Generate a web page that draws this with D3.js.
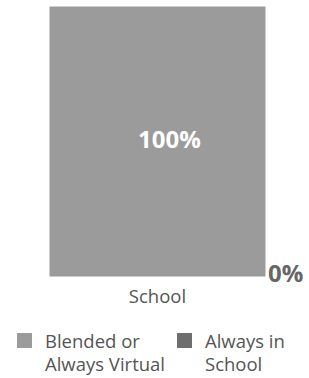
<!DOCTYPE html>
<html><head><meta charset="utf-8">
<script src="https://cdn.jsdelivr.net/npm/d3@7"></script>
<style>body{margin:0;background:#fff}svg{display:block;font-family:"Open Sans",sans-serif}</style>
</head><body>
<svg id="c" width="309" height="378"></svg>
<script>
const categories = ["School"];
const seriesNames = ["Blended or Always Virtual", "Always in School"];
const blended = [100];
const alwaysInSchool = [0];
const colors = ["#9b9b9b", "#6e6e6e"];
const legendLines = [["Blended or", "Always Virtual"], ["Always in", "School"]];

const svg = d3.select("#c");
const x = d3.scaleBand().domain(categories).range([49, 266]).padding(0);
const y = d3.scaleLinear().domain([0, 100]).range([277, 6]);

const rows = categories.map((c, i) => ({cat: c, "Always in School": alwaysInSchool[i], "Blended or Always Virtual": blended[i]}));
const stack = d3.stack().keys(["Always in School", "Blended or Always Virtual"])(rows);

stack.forEach(layer => {
  const ci = seriesNames.indexOf(layer.key);
  svg.append("g").selectAll("rect").data(layer).join("rect")
    .attr("x", d => x(d.data.cat))
    .attr("width", x.bandwidth())
    .attr("y", d => Math.min(y(d[1]), y(d[0]) - 2))
    .attr("height", d => Math.max(y(d[0]) - y(d[1]), 2))
    .attr("fill", colors[ci])
    .attr("stroke", "#fff").attr("stroke-width", 1);
});

// labels
const topLayer = stack[1];
svg.append("g").selectAll("text").data(topLayer).join("text")
  .attr("x", d => x(d.data.cat) + x.bandwidth() / 2 + 12)
  .attr("y", d => (y(d[0]) + y(d[1])) / 2 + 6)
  .attr("text-anchor", "middle").attr("fill", "#fff")
  .attr("font-size", 24).attr("font-weight", 700)
  .text(d => (d[1] - d[0]) + "%");
const botLayer = stack[0];
svg.append("g").selectAll("text").data(botLayer).join("text")
  .attr("x", d => x(d.data.cat) + x.bandwidth() + 2)
  .attr("y", d => y(d[0]) + 5)
  .attr("text-anchor", "start").attr("fill", "#666")
  .attr("font-size", 24).attr("font-weight", 700)
  .text(d => (d[1] - d[0]) + "%");

// x axis label
svg.append("g").selectAll("text").data(categories).join("text")
  .attr("x", d => x(d) + x.bandwidth() / 2).attr("y", 303)
  .attr("text-anchor", "middle").attr("fill", "#555").attr("font-size", 18.5)
  .text(d => d);

// legend
const legX = [17, 177];
seriesNames.forEach((s, i) => {
  const g = svg.append("g");
  g.append("rect").attr("x", legX[i]).attr("y", 333).attr("width", 15).attr("height", 15).attr("fill", colors[i]);
  const t = g.append("text").attr("x", legX[i] + 28).attr("y", 348).attr("fill", "#555").attr("font-size", 18.5);
  legendLines[i].forEach((l, j) => t.append("tspan").attr("x", legX[i] + 28).attr("dy", j ? 23 : 0).text(l));
});
</script>
</body></html>
